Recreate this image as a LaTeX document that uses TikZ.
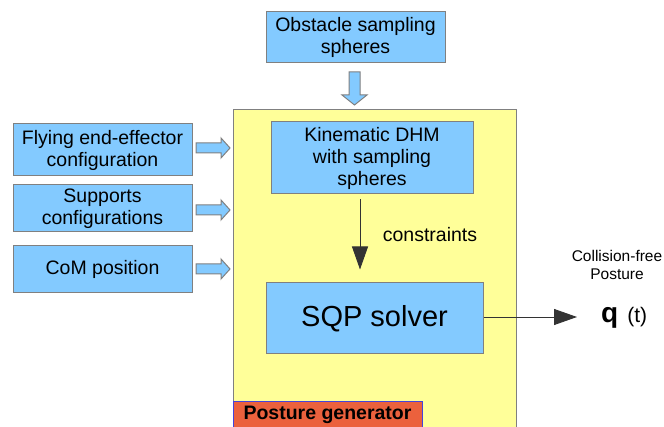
\documentclass[tikz,border=0pt]{standalone}
\usepackage{fontspec}
\setmainfont{Liberation Sans}
\usetikzlibrary{arrows.meta}
\definecolor{boxblue}{HTML}{83CAFF}
\definecolor{boxline}{HTML}{808080}
\definecolor{paleyellow}{HTML}{FFFF99}
\definecolor{genred}{HTML}{EB613D}
\definecolor{genline}{HTML}{4444DD}
\tikzset{
  bluebox/.style={draw=boxline, line width=1pt, fill=boxblue, align=center, inner sep=0pt,
    font=\fontsize{19.5}{22}\selectfont},
  blockarrow/.style={draw=boxline, line width=1pt, fill=boxblue},
  rarrow/.pic={\draw[blockarrow] (-17,-5) -- (8,-5) -- (8,-10) -- (17,0) -- (8,10) -- (8,5) -- (-17,5) -- cycle;},
  darrow/.pic={\draw[blockarrow] (-5.5,-16) -- (-5.5,7) -- (-12.5,7) -- (0,17) -- (12.5,7) -- (5.5,7) -- (5.5,-16) -- cycle;},
  flow/.style={line width=0.9pt, draw=black!80, -{Triangle[length=23pt,width=16pt]}}
}
\begin{document}
\begin{tikzpicture}[x=1pt,y=-1pt]
\clip (0,0) rectangle (664,427);
\fill[white] (0,0) rectangle (664,427);
% posture generator container
\node[draw=boxline, line width=1pt, fill=paleyellow, minimum width=283pt, minimum height=330pt, anchor=north west, inner sep=0pt] (gen) at (233,109) {};
\node[draw=genline, line width=1pt, fill=genred, minimum width=189pt, minimum height=30pt, anchor=north west, inner sep=0pt] (genlabel) at (233,401) {};
\node[font=\fontsize{19.5}{22}\selectfont\bfseries] (genlabeltext) at (327.5,414.5) {Posture generator};
% input boxes
\node[bluebox, minimum width=179pt, minimum height=51pt] (obs) at (355.5,37) {Obstacle sampling\\spheres};
\node[bluebox, minimum width=202pt, minimum height=72pt] (kin) at (372,158) {Kinematic DHM\\with sampling\\spheres};
\node[bluebox, minimum width=179pt, minimum height=52pt] (fly) at (102.5,150) {Flying end-effector\\configuration};
\node[bluebox, minimum width=179pt, minimum height=47pt] (sup) at (102.5,208.5) {Supports\\configurations};
\node[bluebox, minimum width=179pt, minimum height=47pt] (com) at (102.5,269.5) {CoM position};
\node[bluebox, minimum width=217pt, minimum height=71pt, font=\fontsize{29}{32}\selectfont] (sqp) at (374.5,318.5) {SQP solver};
% block arrows
\pic at (354.5,88) {darrow};
\pic at (213,148) {rarrow};
\pic at (213,210) {rarrow};
\pic at (213,269) {rarrow};
% constraints arrow
\draw[flow] ([xshift=-12pt,yshift=-5pt]kin.south) -- ([xshift=-14.5pt,yshift=13pt]sqp.north);
\node[font=\fontsize{19.5}{22}\selectfont] (cons) at (430,235) {constraints};
% output
\coordinate (qend) at (577,317);
\draw[flow] (sqp.east |- qend) -- (qend);
\node[anchor=west, inner sep=0pt] (q) at (601,318) {{\fontsize{28}{30}\selectfont\bfseries q}\hspace{9pt}{\fontsize{21}{24}\selectfont (t)}};
\node[align=center, font=\fontsize{15.5}{18}\selectfont] (cf) at (617,265) {Collision-free\\Posture};
\end{tikzpicture}
\end{document}
